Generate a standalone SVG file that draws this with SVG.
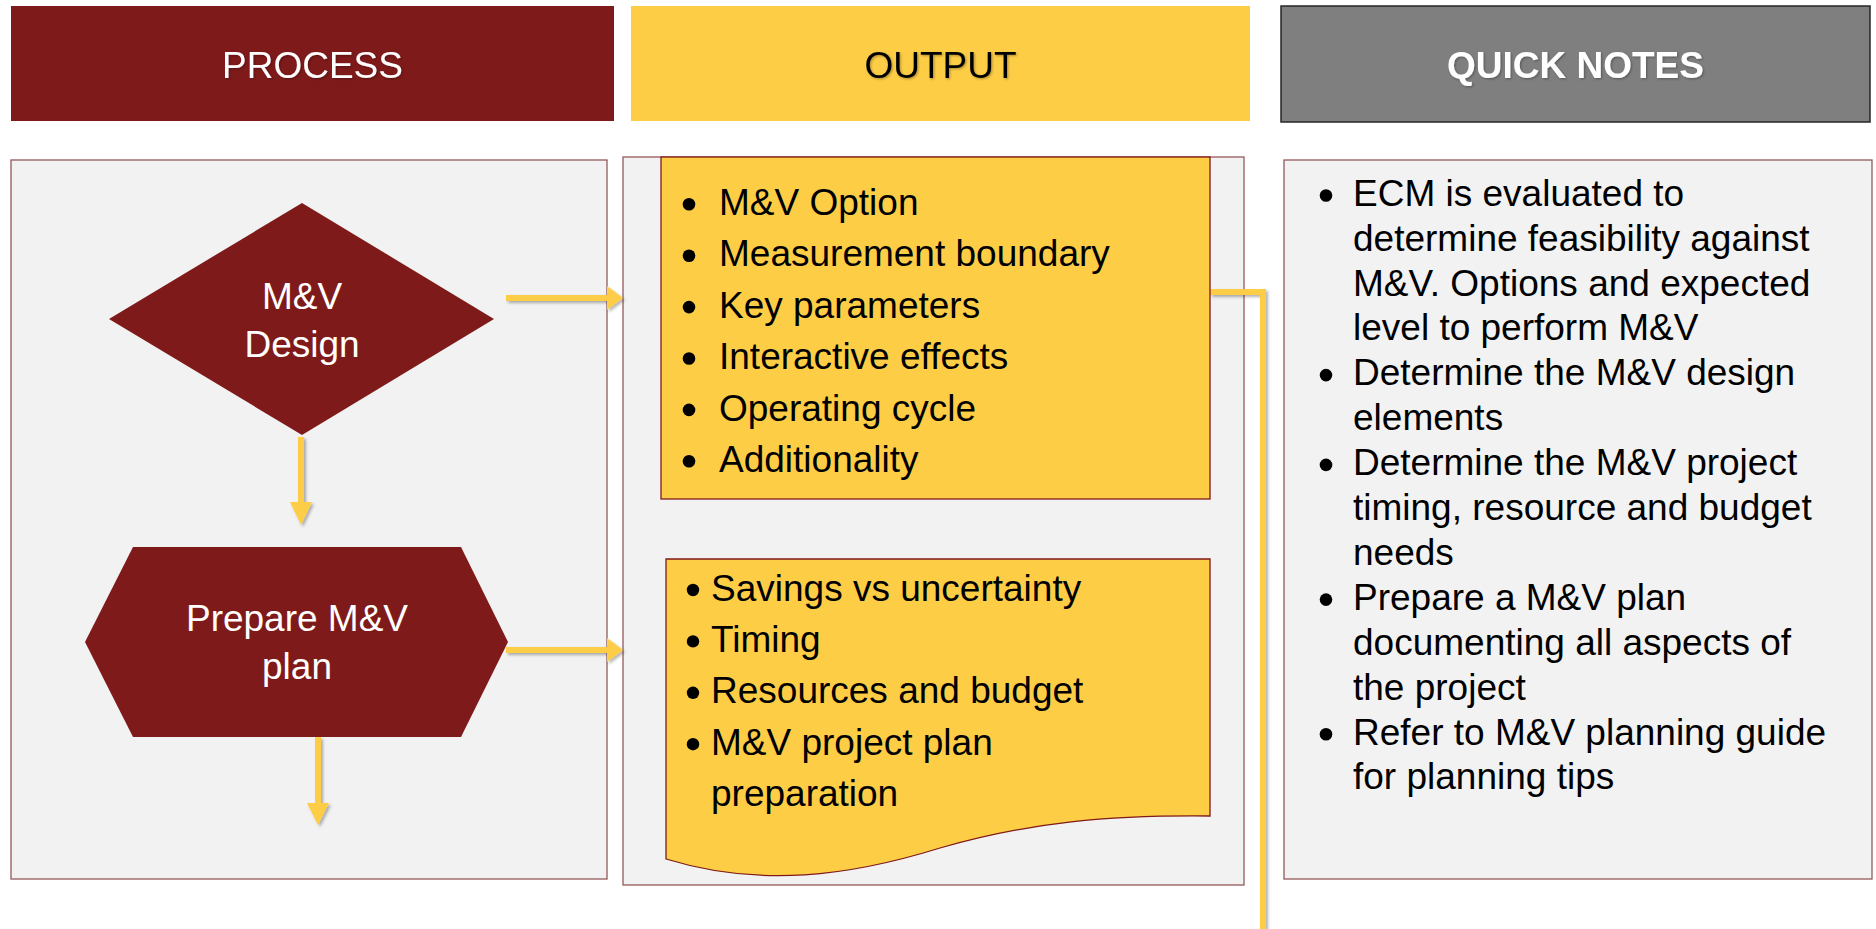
<svg xmlns="http://www.w3.org/2000/svg" width="1876" height="929" viewBox="0 0 1876 929">
<defs>
<style>
.t{font-family:"Liberation Sans",Arial,sans-serif;font-size:37px}
.w{fill:#ffffff}
.k{fill:#000000}
.b{font-weight:bold}
.mid{text-anchor:middle}
.panel{fill:#f2f2f2;stroke:#94585a;stroke-width:1.3}
.maroon{fill:#7f1a1a}
.yel{fill:#fdcd46;stroke:#7f1a1a;stroke-width:1.3}
.bul{fill:#000000}
.con{fill:none;stroke:#fdcd46;stroke-width:6}
.head{fill:#fdcd46}
</style>
<filter id="ts" x="-10%" y="-30%" width="130%" height="160%">
<feDropShadow dx="1.2" dy="1.2" stdDeviation="0.8" flood-color="#000" flood-opacity="0.3"/>
</filter>
<filter id="as" x="-20%" y="-20%" width="140%" height="140%">
<feDropShadow dx="2" dy="2" stdDeviation="1.5" flood-color="#000" flood-opacity="0.3"/>
</filter>
</defs>
<rect width="1876" height="929" fill="#ffffff"/>

<g id="header-process">
<rect x="11" y="6" width="603" height="115" class="maroon"/>
<text x="312.5" y="78" class="t w mid" filter="url(#ts)">PROCESS</text>
</g>
<g id="header-output">
<rect x="631" y="6" width="619" height="115" fill="#fdcd46"/>
<text x="940.5" y="78" class="t k mid" filter="url(#ts)">OUTPUT</text>
</g>
<g id="header-notes">
<rect x="1281" y="6" width="589" height="116" fill="#7f7f7f" stroke="#262626" stroke-width="1.5"/>
<text x="1575.5" y="78" class="t w b mid" filter="url(#ts)">QUICK NOTES</text>
</g>

<g id="panel-process">
<rect x="11" y="160" width="596" height="719" class="panel"/>
</g>
<g id="panel-output">
<rect x="623" y="157" width="621" height="728" class="panel" stroke="#6e2a2a"/>
</g>
<g id="panel-notes">
<rect x="1284" y="160" width="588" height="719" class="panel"/>
</g>

<g id="connectors" filter="url(#as)">
<line x1="506" y1="298" x2="609" y2="298" class="con"/>
<polygon points="607,286 623,298 607,310" class="head"/>
<line x1="301" y1="437" x2="301" y2="504" class="con"/>
<polygon points="290,502 301,525 312,502" class="head"/>
<line x1="506" y1="650" x2="609" y2="650" class="con"/>
<polygon points="607,638 623,650 607,662" class="head"/>
<line x1="318" y1="737" x2="318" y2="805" class="con"/>
<polygon points="307,803 318,825 329,803" class="head"/>
<polyline points="1210,292 1263,292 1263,929" class="con"/>
</g>

<g id="node-mv-design">
<polygon points="302,203 494,319 302,435 109,319" class="maroon"/>
<text x="302" y="309" class="t w mid">M&amp;V</text>
<text x="302" y="357" class="t w mid">Design</text>
</g>

<g id="node-prepare-plan">
<polygon points="133,547 461,547 508,642 461,737 133,737 85,642" class="maroon"/>
<text x="297" y="631" class="t w mid">Prepare M&amp;V</text>
<text x="297" y="679" class="t w mid">plan</text>
</g>

<g id="output-design">
<rect x="661" y="157" width="549" height="342" class="yel"/>
<circle cx="689" cy="204.3" r="6.3" class="bul"/>
<circle cx="689" cy="255.7" r="6.3" class="bul"/>
<circle cx="689" cy="307.1" r="6.3" class="bul"/>
<circle cx="689" cy="358.5" r="6.3" class="bul"/>
<circle cx="689" cy="409.9" r="6.3" class="bul"/>
<circle cx="689" cy="461.3" r="6.3" class="bul"/>
<text class="t k"><tspan x="719" y="215">M&amp;V Option</tspan><tspan x="719" y="266.4">Measurement boundary</tspan><tspan x="719" y="317.8">Key parameters</tspan><tspan x="719" y="369.2">Interactive effects</tspan><tspan x="719" y="420.6">Operating cycle</tspan><tspan x="719" y="472">Additionality</tspan></text>
</g>

<g id="output-plan">
<path d="M666,559 L1210,559 L1210,816 C1110,815 1030,822 940,848 C850,876 760,888 666,859 Z" class="yel"/>
<circle cx="693" cy="590" r="6.2" class="bul"/>
<circle cx="693" cy="641.4" r="6.2" class="bul"/>
<circle cx="693" cy="692.8" r="6.2" class="bul"/>
<circle cx="693" cy="744.2" r="6.2" class="bul"/>
<text class="t k"><tspan x="711" y="600.5">Savings vs uncertainty</tspan><tspan x="711" y="651.9">Timing</tspan><tspan x="711" y="703.3">Resources and budget</tspan><tspan x="711" y="754.7">M&amp;V project plan</tspan><tspan x="711" y="806.1">preparation</tspan></text>
</g>

<g id="notes-text">
<circle cx="1326" cy="195.5" r="6.3" class="bul"/>
<circle cx="1326" cy="375.1" r="6.3" class="bul"/>
<circle cx="1326" cy="464.9" r="6.3" class="bul"/>
<circle cx="1326" cy="599.6" r="6.3" class="bul"/>
<circle cx="1326" cy="734.3" r="6.3" class="bul"/>
<text class="t k"><tspan x="1353" y="205.7">ECM is evaluated to</tspan><tspan x="1353" y="250.6">determine feasibility against</tspan><tspan x="1353" y="295.5">M&amp;V. Options and expected</tspan><tspan x="1353" y="340.4">level to perform M&amp;V</tspan><tspan x="1353" y="385.3">Determine the M&amp;V design</tspan><tspan x="1353" y="430.2">elements</tspan><tspan x="1353" y="475.1">Determine the M&amp;V project</tspan><tspan x="1353" y="520">timing, resource and budget</tspan><tspan x="1353" y="564.9">needs</tspan><tspan x="1353" y="609.8">Prepare a M&amp;V plan</tspan><tspan x="1353" y="654.7">documenting all aspects of</tspan><tspan x="1353" y="699.6">the project</tspan><tspan x="1353" y="744.5">Refer to M&amp;V planning guide</tspan><tspan x="1353" y="789.4">for planning tips</tspan></text>
</g>
</svg>
